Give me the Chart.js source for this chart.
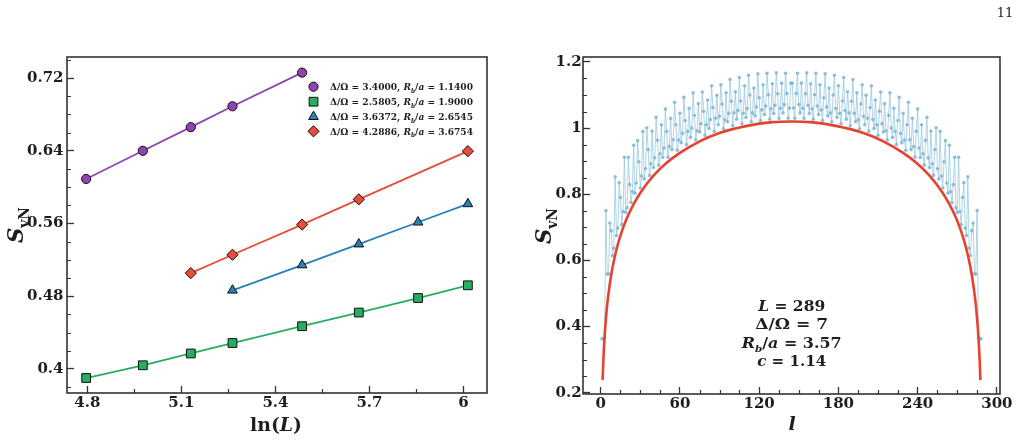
<!DOCTYPE html>
<html>
<head>
<meta charset="utf-8">
<script src="https://cdn.jsdelivr.net/npm/chart.js@4.4.1/dist/chart.umd.min.js"></script>
<style>
  html, body { margin: 0; padding: 0; background: #fff; }
  #wrap { position: relative; width: 1023px; height: 443px; overflow: hidden; }
  canvas { position: absolute; top: 0; }
  #left { left: 0; }
  #right { left: 512px; }
</style>
</head>
<body>
<div id="wrap">
  <canvas id="left" width="512" height="443"></canvas>
  <canvas id="right" width="511" height="443"></canvas>
</div>
<script>
// ---- left panel: S_vN vs ln(L) ----
const xPurple = [4.796, 4.977, 5.130, 5.263, 5.485];
const sPurple = [0.609, 0.640, 0.666, 0.689, 0.726];
const xGreen = [4.796, 4.977, 5.130, 5.263, 5.485, 5.666, 5.855, 6.014];
const sGreen = [0.390, 0.404, 0.417, 0.4285, 0.447, 0.462, 0.478, 0.492];
const xBlue = [5.263, 5.485, 5.666, 5.855, 6.014];
const sBlue = [0.4865, 0.5143, 0.5373, 0.5614, 0.5816];
const xRed = [5.130, 5.263, 5.485, 5.666, 6.014];
const sRed = [0.5054, 0.5256, 0.5588, 0.5866, 0.6396];

const deltaOmega = ['3.4000', '2.5805', '3.6372', '4.2886'];
const rbOverA = ['1.1400', '1.9000', '2.6545', '3.6754'];

const xTicksL = [4.8, 5.1, 5.4, 5.7, 6.0];
const xTickLabelsL = ['4.8', '5.1', '5.4', '5.7', '6'];
const yTicksL = [0.4, 0.48, 0.56, 0.64, 0.72];
const yTickLabelsL = ['0.4', '0.48', '0.56', '0.64', '0.72'];
const xMinorL = [4.95, 5.25, 5.55, 5.85];
const yMinorL = [0.38, 0.42, 0.44, 0.46, 0.50, 0.52, 0.54, 0.58, 0.60, 0.62, 0.66, 0.68, 0.70, 0.74];

// ---- right panel: S_vN vs l, L = 289 ----
const entropy = [
  0.363, 0.362, 0.366, 0.751, 0.559, 0.559, 0.713, 0.690, 0.614, 0.637,
  0.853, 0.675, 0.698, 0.835, 0.790, 0.708, 0.748, 0.912, 0.745, 0.759,
  0.912, 0.829, 0.775, 0.808, 0.948, 0.803, 0.834, 0.962, 0.898, 0.819,
  0.855, 0.990, 0.846, 0.877, 1.001, 0.935, 0.857, 0.892, 0.991, 0.881,
  0.910, 1.033, 0.963, 0.888, 0.922, 1.010, 0.911, 0.940, 1.058, 0.990,
  0.912, 0.944, 1.030, 0.935, 0.965, 1.078, 1.010, 0.933, 0.964, 1.045,
  0.956, 0.984, 1.093, 1.023, 0.950, 0.990, 1.060, 0.972, 1.000, 1.107,
  1.038, 0.964, 0.992, 1.074, 0.988, 1.013, 1.109, 1.051, 0.978, 1.010,
  1.085, 0.999, 1.026, 1.128, 1.062, 0.990, 1.030, 1.099, 1.010, 1.036,
  1.131, 1.073, 0.998, 1.025, 1.107, 1.019, 1.045, 1.147, 1.081, 1.007,
  1.046, 1.110, 1.027, 1.053, 1.153, 1.082, 1.013, 1.045, 1.128, 1.032,
  1.059, 1.160, 1.100, 1.019, 1.046, 1.121, 1.037, 1.064, 1.164, 1.092,
  1.023, 1.055, 1.131, 1.041, 1.067, 1.166, 1.101, 1.027, 1.058, 1.134,
  1.044, 1.069, 1.167, 1.104, 1.029, 1.060, 1.136, 1.046, 1.071, 1.166,
  1.105, 1.030, 1.061, 1.136,
  1.136, 1.061, 1.030, 1.105,
  1.166, 1.071, 1.046, 1.136, 1.060, 1.029, 1.104, 1.167, 1.069, 1.044,
  1.134, 1.058, 1.027, 1.101, 1.166, 1.067, 1.041, 1.131, 1.055, 1.023,
  1.092, 1.164, 1.064, 1.037, 1.121, 1.046, 1.019, 1.100, 1.160, 1.059,
  1.032, 1.128, 1.045, 1.013, 1.082, 1.153, 1.053, 1.027, 1.110, 1.046,
  1.007, 1.081, 1.147, 1.045, 1.019, 1.107, 1.025, 0.998, 1.073, 1.131,
  1.036, 1.010, 1.099, 1.030, 0.990, 1.062, 1.128, 1.026, 0.999, 1.085,
  1.010, 0.978, 1.051, 1.109, 1.013, 0.988, 1.074, 0.992, 0.964, 1.038,
  1.107, 1.000, 0.972, 1.060, 0.990, 0.950, 1.023, 1.093, 0.984, 0.956,
  1.045, 0.964, 0.933, 1.010, 1.078, 0.965, 0.935, 1.030, 0.944, 0.912,
  0.990, 1.058, 0.940, 0.911, 1.010, 0.922, 0.888, 0.963, 1.033, 0.910,
  0.881, 0.991, 0.892, 0.857, 0.935, 1.001, 0.877, 0.846, 0.990, 0.855,
  0.819, 0.898, 0.962, 0.834, 0.803, 0.948, 0.808, 0.775, 0.829, 0.912,
  0.759, 0.745, 0.912, 0.748, 0.708, 0.790, 0.835, 0.698, 0.675, 0.853,
  0.637, 0.614, 0.690, 0.713, 0.559, 0.559, 0.751, 0.366, 0.362, 0.363
];
// fitted curve (red)
const fitL = [1.5, 2, 2.5, 3, 4, 5, 6, 8, 10, 13, 16, 20, 25, 30, 40, 50, 60, 75, 90, 110,
  130, 144.5, 159, 179, 199, 214, 229, 239, 249, 259, 264, 269, 273, 276, 279, 281, 283, 284, 285, 286,
  286.5, 287, 287.5];
const fitS = [0.238, 0.293, 0.335, 0.370, 0.424, 0.467, 0.501, 0.556, 0.598, 0.648, 0.687, 0.729, 0.770, 0.804, 0.856, 0.895, 0.925, 0.960, 0.985, 1.006,
  1.018, 1.020, 1.018, 1.006, 0.985, 0.960, 0.925, 0.895, 0.856, 0.804, 0.770, 0.729, 0.687, 0.648, 0.598, 0.556, 0.501, 0.467, 0.424, 0.370,
  0.335, 0.293, 0.238];

const xTicksR = [0, 60, 120, 180, 240, 300];
const xTickLabelsR = ['0', '60', '120', '180', '240', '300'];
const yTicksR = [0.2, 0.4, 0.6, 0.8, 1.0, 1.2];
const yTickLabelsR = ['0.2', '0.4', '0.6', '0.8', '1', '1.2'];
const xMinorR = [15, 30, 45, 75, 90, 105, 135, 150, 165, 195, 210, 225, 255, 270, 285];
const yMinorR = [0.25, 0.3, 0.35, 0.45, 0.5, 0.55, 0.65, 0.7, 0.75, 0.85, 0.9, 0.95, 1.05, 1.1, 1.15];

const SERIF = '"DejaVu Serif", serif';
const INK = '#1e1e1e';
const tickFont = { family: SERIF, size: 15, weight: 'bold' };

// rich text pieces
const T = s => ({ t: s });
const I = s => ({ t: s, it: true });
const Sb = (s, it) => ({ t: s, sub: true, it: !!it });

function segFont(sg, size) {
  const s = sg.sub ? size * 0.65 : size;
  return (sg.it ? 'italic ' : '') + 'bold ' + s.toFixed(1) + 'px ' + SERIF;
}

function drawRich(ctx, segs, x, y, size, align, target, rot) {
  ctx.save();
  let w = 0;
  segs.forEach(sg => { ctx.font = segFont(sg, size); w += ctx.measureText(sg.t).width; });
  const k = target ? target / w : 1;
  ctx.translate(x, y);
  if (rot) ctx.rotate(rot);
  ctx.scale(k, 1);
  ctx.textAlign = 'left';
  ctx.textBaseline = 'alphabetic';
  ctx.fillStyle = INK;
  let cx = align === 'center' ? -w / 2 : 0;
  segs.forEach(sg => {
    ctx.font = segFont(sg, size);
    ctx.fillText(sg.t, cx, sg.sub ? size * 0.24 : 0);
    cx += ctx.measureText(sg.t).width;
  });
  ctx.restore();
}

function drawFrame(chart) {
  const ctx = chart.ctx, a = chart.chartArea;
  ctx.save();
  ctx.strokeStyle = '#333';
  ctx.lineWidth = 1.6;
  ctx.strokeRect(a.left, a.top, a.right - a.left, a.bottom - a.top);
  ctx.restore();
}

function drawMinor(chart, xs, ys) {
  const ctx = chart.ctx, a = chart.chartArea;
  ctx.save();
  ctx.strokeStyle = '#333';
  ctx.lineWidth = 1.2;
  ctx.beginPath();
  xs.forEach(v => {
    const px = Math.round(chart.scales.x.getPixelForValue(v)) + 0.5;
    ctx.moveTo(px, a.bottom);
    ctx.lineTo(px, a.bottom - 4);
  });
  ys.forEach(v => {
    const py = Math.round(chart.scales.y.getPixelForValue(v)) + 0.5;
    ctx.moveTo(a.left, py);
    ctx.lineTo(a.left + 4, py);
  });
  ctx.stroke();
  ctx.restore();
}

function pts(xs, ys) {
  return xs.map((x, i) => ({ x: x, y: ys[i] }));
}

function axis(min, max, ticks, labels, size, isX, pad) {
  return {
    type: 'linear', min: min, max: max,
    afterBuildTicks: s => { s.ticks = ticks.map(v => ({ value: v })); },
    afterFit: s => { if (isX) s.height = size; else s.width = size; },
    ticks: {
      callback: (v, i) => labels[i],
      font: tickFont, color: INK, padding: pad,
      autoSkip: false, maxRotation: 0
    },
    grid: { drawOnChartArea: false, tickLength: -7, tickWidth: 1.3, tickColor: '#333' },
    border: { display: false }
  };
}

// left series styling
const leftSeries = [
  { xs: xPurple, ys: sPurple, color: '#8e44ad', style: 'circle', r: 4.6 },
  { xs: xGreen, ys: sGreen, color: '#27ae60', style: 'rect', r: 6.2 },
  { xs: xBlue, ys: sBlue, color: '#2980b9', style: 'triangle', r: 5.6 },
  { xs: xRed, ys: sRed, color: '#e74c3c', style: 'rectRot', r: 5.6 }
];

const leftDecor = {
  id: 'leftDecor',
  afterDraw(chart) {
    const ctx = chart.ctx;
    drawFrame(chart);
    drawMinor(chart, xMinorL, yMinorL);
    drawRich(ctx, [T('ln('), I('L'), T(')')], 276, 431, 19, 'center', 52);
    drawRich(ctx, [I('S'), Sb('vN')], 23, 225, 23, 'center', 36, -Math.PI / 2);
    // legend
    const rows = [86.7, 101.7, 116.7, 131.3];
    leftSeries.forEach((sr, i) => {
      ctx.save();
      ctx.fillStyle = sr.color;
      ctx.strokeStyle = '#111';
      ctx.lineWidth = 1;
      Chart.helpers.drawPoint(ctx, { pointStyle: sr.style, radius: sr.r, rotation: 0, borderWidth: 1 }, 313.5, rows[i]);
      ctx.restore();
      drawRich(ctx, [T('Δ/Ω = ' + deltaOmega[i] + ', '), I('R'), Sb('b', true), T('/'), I('a'), T(' = ' + rbOverA[i])],
        330, rows[i] + 3.6, 10, 'left', 143);
    });
  }
};

new Chart(document.getElementById('left'), {
  type: 'line',
  data: {
    datasets: leftSeries.map(sr => ({
      data: pts(sr.xs, sr.ys),
      borderColor: sr.color,
      borderWidth: 1.8,
      pointStyle: sr.style,
      pointRadius: sr.r,
      pointBackgroundColor: sr.color,
      pointBorderColor: '#111',
      pointBorderWidth: 1
    }))
  },
  options: {
    responsive: false, animation: false, devicePixelRatio: 1,
    layout: { padding: { left: 0, top: 57, right: 25, bottom: 0 } },
    plugins: { legend: { display: false }, tooltip: { enabled: false } },
    scales: {
      x: axis(4.735, 6.075, xTicksL, xTickLabelsL, 50, true, 8),
      y: axis(0.3735, 0.7432, yTicksL, yTickLabelsL, 67, false, 10.5)
    }
  },
  plugins: [leftDecor]
});

const rightDecor = {
  id: 'rightDecor',
  afterDraw(chart) {
    const ctx = chart.ctx;
    drawFrame(chart);
    drawMinor(chart, xMinorR, yMinorR);
    drawRich(ctx, [I('l')], 280, 430, 19, 'center');
    drawRich(ctx, [I('S'), Sb('vN')], 39, 226, 23, 'center', 36, -Math.PI / 2);
    drawRich(ctx, [I('L'), T(' = 289')], 279.7, 310.5, 15, 'center', 67);
    drawRich(ctx, [T('Δ/Ω = 7')], 279.7, 329, 15, 'center', 73);
    drawRich(ctx, [I('R'), Sb('b', true), T('/'), I('a'), T(' = 3.57')], 279.7, 348, 15, 'center', 100);
    drawRich(ctx, [I('c'), T(' = 1.14')], 279.7, 366, 15, 'center', 69);
    // page number
    ctx.save();
    ctx.fillStyle = INK;
    ctx.font = '13px ' + SERIF;
    ctx.textAlign = 'center';
    ctx.fillText('11', 493, 17);
    ctx.restore();
  }
};

new Chart(document.getElementById('right'), {
  type: 'line',
  data: {
    datasets: [
      {
        data: pts(fitL, fitS),
        borderColor: '#e5432f',
        borderWidth: 2.6,
        pointRadius: 0,
        cubicInterpolationMode: 'monotone'
      },
      {
        data: entropy.map((s, i) => ({ x: i + 1, y: s })),
        borderColor: 'rgba(150, 198, 220, 0.75)',
        borderWidth: 1,
        pointRadius: 1.8,
        pointBackgroundColor: 'rgba(125, 182, 210, 0.85)',
        pointBorderWidth: 0
      }
    ]
  },
  options: {
    responsive: false, animation: false, devicePixelRatio: 1,
    layout: { padding: { left: 0, top: 57, right: 23, bottom: 0 } },
    plugins: { legend: { display: false }, tooltip: { enabled: false } },
    scales: {
      x: axis(-13.35, 302.35, xTicksR, xTickLabelsR, 49, true, 8),
      y: axis(0.196, 1.215, yTicksR, yTickLabelsR, 71, false, 8.3)
    }
  },
  plugins: [rightDecor]
});
</script>
</body>
</html>
